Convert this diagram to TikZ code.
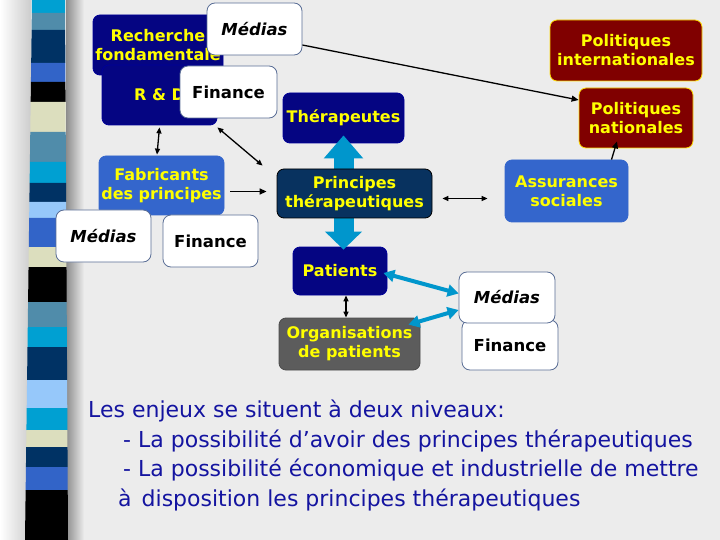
\documentclass[tikz,border=0pt]{standalone}
\usepackage{fontspec}
\setmainfont{DejaVu Sans}
\usetikzlibrary{arrows.meta}
\definecolor{slidebg}{RGB}{236,236,236}
\definecolor{boxnavy}{RGB}{5,5,130}
\definecolor{boxteal}{RGB}{8,50,95}
\definecolor{boxblue}{RGB}{52,102,204}
\definecolor{boxred}{RGB}{128,0,0}
\definecolor{boxgrey}{RGB}{92,92,92}
\definecolor{lblyellow}{RGB}{255,255,0}
\definecolor{wbord}{RGB}{90,110,150}
\definecolor{txtblue}{RGB}{20,20,160}
\definecolor{arrcyan}{RGB}{0,150,204}
\definecolor{stcyan}{RGB}{0,160,210}
\definecolor{ststeel}{RGB}{80,140,170}
\definecolor{stnavy}{RGB}{0,50,100}
\definecolor{stblue}{RGB}{50,100,200}
\definecolor{stcream}{RGB}{220,222,190}
\definecolor{stlight}{RGB}{150,200,250}

\begin{document}
\begin{tikzpicture}[x=1pt,y=-1pt,
  lbl/.style={rounded corners=7pt,draw,line width=0.8pt,text=lblyellow,align=center,inner sep=0pt,font=\fontsize{16}{19}\selectfont\bfseries},
  wbox/.style={rounded corners=8pt,draw=wbord,fill=white,line width=0.8pt,inner sep=0pt,minimum width=95pt,minimum height=52pt,font=\fontsize{16.5}{19}\selectfont\bfseries},
  mbox/.style={wbox,font=\fontsize{16.5}{19}\selectfont\bfseries\itshape},
  arr/.style={{Triangle[length=6pt,width=5pt]}-{Triangle[length=6pt,width=5pt]},line width=1.3pt},
  cyanarr/.style={{Triangle[length=11pt,width=12pt]}-{Triangle[length=11pt,width=12pt]},line width=4pt,arrcyan},
  bigarr/.style={{Triangle[length=23pt,width=38pt]}-{Triangle[length=18pt,width=36pt]},line width=20pt,arrcyan}]
\fill[slidebg] (0,0) rectangle (720,540);
\shade[left color=white,right color=black!20] (0,0) rectangle (31,540);
\shade[left color=black!45,right color=slidebg] (66,0) rectangle (84,540);
\foreach \ya/\yb/\col in {0/13/stcyan,13/30/ststeel,30/63/stnavy,63/82/stblue,82/102/black,102/132/stcream,
  132/162/ststeel,162/183/stcyan,183/202/stnavy,202/218/stlight,218/247/stblue,247/267/stcream,267/302/black,
  302/327/ststeel,327/347/stcyan,347/380/stnavy,380/408/stlight,408/430/stcyan,430/447/stcream,447/467/stnavy,
  467/490/stblue,490/540/black}
  \fill[\col] ({32-7*\ya/540},\ya) -- ({65+3*\ya/540},\ya) -- ({65+3*\yb/540},\yb) -- ({32-7*\yb/540},\yb) -- cycle;

\node[lbl,fill=boxnavy,draw=blue!60!black,minimum width=130pt,minimum height=60pt] (rech) at (158,45) {Recherche\\fondamentale};
\node[lbl,fill=boxnavy,draw=blue!60!black,minimum width=115pt,minimum height=60pt] (rnd) at (159.5,95) {R \& D};
\node[mbox] (mediasA) at (254.5,29) {Médias};
\node[wbox,minimum width=97pt] (finA) at (228.5,92) {Finance};

\node[lbl,fill=boxblue,draw=boxblue,minimum width=125pt,minimum height=59pt] (fab) at (161.5,185.5) {Fabricants\\des principes};
\node[mbox] (mediasC) at (103.5,236) {Médias};
\node[wbox] (finC) at (210.5,241) {Finance};

\node[lbl,fill=boxred,draw=yellow!80!orange,minimum width=152pt,minimum height=61pt] (polint) at (626,50.5) {Politiques\\internationales};
\node[lbl,fill=boxred,draw=yellow!80!orange,minimum width=114pt,minimum height=60pt] (polnat) at (636,118) {Politiques\\nationales};
\node[lbl,fill=boxblue,draw=boxblue,minimum width=123pt,minimum height=62pt] (assur) at (566.5,191) {Assurances\\sociales};

\node[lbl,fill=boxnavy,draw=blue!60!black,minimum width=121pt,minimum height=50pt] (thera) at (343.5,118) {Thérapeutes};
\node[lbl,fill=boxnavy,draw=blue!60!black,minimum width=94pt,minimum height=48pt] (pat) at (340,271) {Patients};
\draw[bigarr] ([yshift=8pt]thera.south) -- ([yshift=-3pt]thera.south |- pat.north);
\node[lbl,fill=boxteal,draw=black,minimum width=155pt,minimum height=49pt] (princ) at (354.5,193.5) {Principes\\thérapeutiques};
\node[lbl,fill=boxgrey,draw=black!70,minimum width=141pt,minimum height=52pt] (orga) at (349.5,344) {Organisations\\de patients};

\node[wbox,minimum width=96pt,minimum height=50pt] (finB) at (510,345) {Finance};
\node[mbox,minimum width=96pt,minimum height=51pt] (mediasB) at (507,297.5) {Médias};

\draw[-{Triangle[length=7pt,width=6pt]},line width=1.3pt] ([yshift=-16pt]mediasA.east) -- ([yshift=18pt]polnat.west);
\draw[-{Triangle[length=7pt,width=6pt]},line width=1.3pt] ([xshift=45pt]assur.north) -- ([xshift=-19pt,yshift=7pt]polnat.south);
\draw[arr] ([yshift=-2pt]rnd.south) -- ([xshift=-4.5pt,yshift=1pt]fab.north);
\draw[arr] ([yshift=-2pt]rnd.south east) -- ([xshift=-14pt,yshift=3pt]princ.north west);
\draw[-{Triangle[length=7pt,width=6pt]},line width=1.3pt] ([xshift=6pt,yshift=-6pt]fab.east) -- ([xshift=-10pt,yshift=-6pt]fab.east -| princ.west);
\draw[arr] ([xshift=10pt,yshift=-5pt]princ.east) -- ([xshift=-17pt,yshift=-5pt]princ.east -| assur.west);
\draw[arr] ([xshift=6pt]pat.south) -- ([xshift=6pt]pat.south |- orga.north);
\draw[cyanarr] ([xshift=-4pt,yshift=-2pt]pat.east) -- ([yshift=4pt]mediasB.west);
\draw[cyanarr] ([xshift=-12pt,yshift=-7pt]orga.north east) -- ([yshift=-12.5pt]mediasB.west);

\node[anchor=north west,align=left,inner sep=0pt,text=txtblue,font=\fontsize{22}{29.5}\selectfont] (enjeux) at (88,400)
 {Les enjeux se situent à deux niveaux:\\
  \hspace*{35pt}- La possibilité d’avoir des principes thérapeutiques\\
  \hspace*{35pt}- La possibilité économique et industrielle de mettre\\
  \hspace*{30pt}à\hspace{10pt}disposition les principes thérapeutiques};
\end{tikzpicture}
\end{document}
